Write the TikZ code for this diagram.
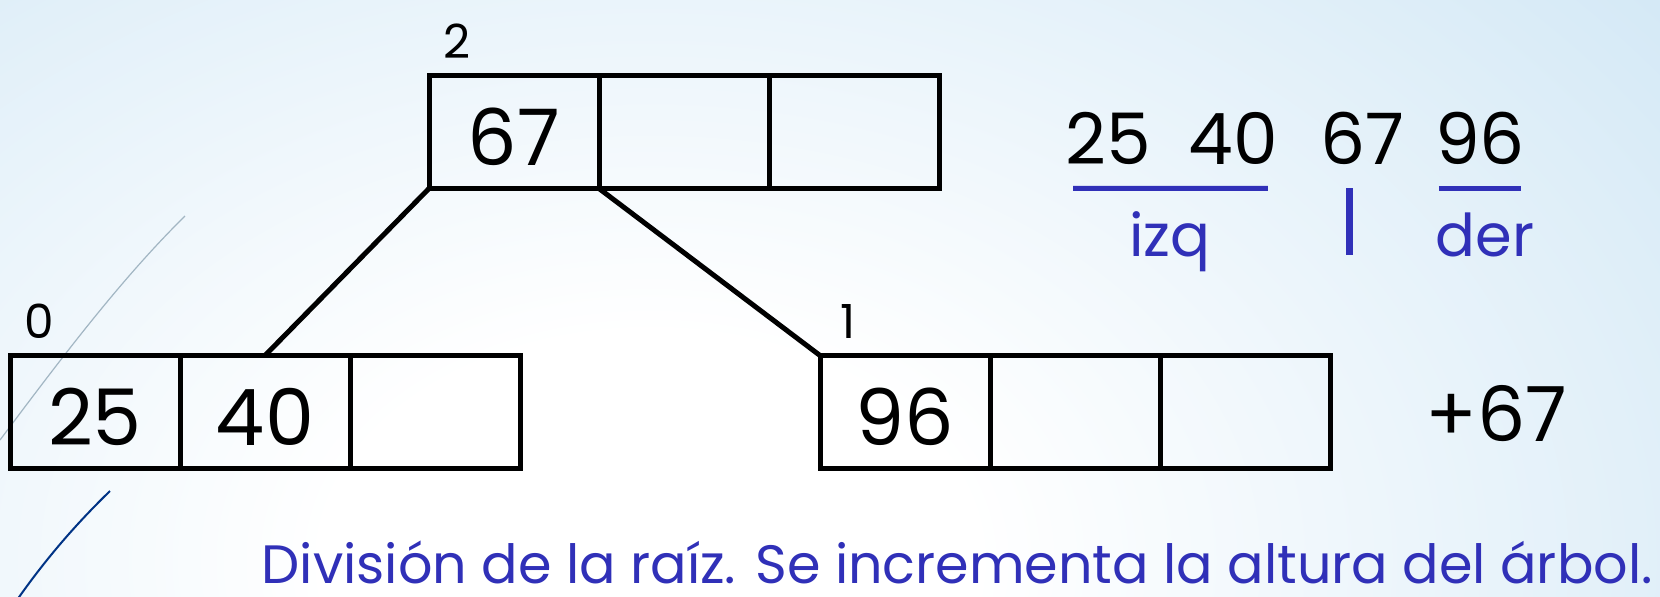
\documentclass[tikz,border=0pt]{standalone}
\usepackage{fontspec}
\setmainfont{Poppins}
\usetikzlibrary{positioning, calc}
\definecolor{slideblue}{RGB}{48,48,184}
\definecolor{bgblue}{RGB}{203,228,244}
\pgfdeclareradialshading{slidebg}{\pgfpoint{0bp}{0bp}}{color(0bp)=(white); color(6bp)=(white); color(28bp)=(bgblue); color(50bp)=(bgblue)}
\tikzset{
	x = 1pt, y = -1pt,
	node distance = 0pt,
	cell/.style = {
		draw,
		line width = 5pt,
		minimum width = 170pt,
		minimum height = 113pt,
		inner sep = 0pt,
		outer sep = 0pt,
		text height = 67pt,
		text depth = 0pt,
		font = \fontsize{78}{80}\selectfont
	},
	edge/.style = {line width = 5pt},
	idx/.style = {inner sep = 0pt, font = \fontsize{47}{50}\selectfont},
	num/.style = {inner sep = 0pt, font = \fontsize{71}{74}\selectfont},
	tag/.style = {inner sep = 0pt, text = slideblue, font = \fontsize{59}{62}\selectfont},
	underline/.style = {draw = slideblue, line width = 5pt},
	bar/.style = {draw = slideblue, line width = 7pt}
}

\begin{document}
\begin{tikzpicture}
	\useasboundingbox (0,0) rectangle (1660,597);
	\begin{scope}
		\clip (0,0) rectangle (1660,597);
		\shade[shading = slidebg] (-700,-380) rectangle (2000,1500);
	\end{scope}
	\draw[black!20!bgblue, line width = 1.2pt] (0,440) .. controls (60,360) and (120,280) .. (185,216);
	\draw[blue!40!black!80!cyan, line width = 2pt] (17,600) .. controls (45,560) and (75,525) .. (110,491);

	% root
	\node[cell, anchor = west] (r1) at (429,132) {67};
	\node[cell, right = of r1] (r2) {};
	\node[cell, right = of r2] (r3) {};
	% left and right children
	\node[cell, anchor = west] (a1) at (10,412) {25};
	\node[cell, right = of a1] (a2) {40};
	\node[cell, right = of a2] (a3) {};
	\node[cell, anchor = west] (b1) at (820,412) {96};
	\node[cell, right = of b1] (b2) {};
	\node[cell, right = of b2] (b3) {};

	\node[idx, above right = 17pt and 14pt of r1.north west] (h2) {2};
	\node[idx, above right = 17pt and 14pt of a1.north west] (h0) {0};
	\node[idx, above right = 17pt and 20pt of b1.north west] (h1) {1};

	\draw[edge] (r1.south west) -- (a2.north);
	\draw[edge] (r1.south east) -- (b1.north west);

	\node[num] (s25) at (1108,138) {25};
	\node[num] (s40) at (1233,138) {40};
	\node[num] (s67) at (1362,138) {67};
	\node[num] (s96) at (1480,138) {96};
	\draw[underline] ([xshift=8pt, yshift=-24pt]s25.south west) -- ([xshift=-10pt, yshift=-24pt]s40.south east);
	\draw[underline] ([xshift=4pt, yshift=-24pt]s96.south west) -- ([xshift=-4pt, yshift=-24pt]s96.south east);
	\draw[bar] ([xshift=-13pt, yshift=-24pt]s67.south) -- ++(0,67);
	\node[tag, anchor = base] (izq) at (1170,256) {izq};
	\node[tag, anchor = base] (der) at (1485,256) {der};

	\node[num, font = \fontsize{76}{78}\selectfont] (p67) at (1496,414) {+67};

	\node[tag, anchor = base east, font = \fontsize{54}{58}\selectfont] (cap) at (1653,583) {División de la raíz. Se incrementa la altura del árbol.};
\end{tikzpicture}
\end{document}
